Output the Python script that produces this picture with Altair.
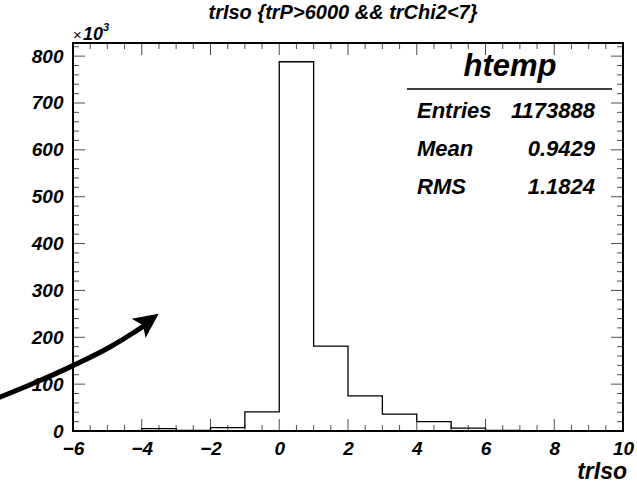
import altair as alt
import pandas as pd

# ---------------- data ----------------
bin_left = [-6, -5, -4, -3, -2, -1, 0, 1, 2, 3, 4, 5, 6, 7, 8, 9]
bin_right_edge = 10
counts = [0, 0, 5000, 1500, 7000, 41000, 788000, 181000, 75000, 36000,
          20000, 6000, 1500, 500, 100, 0]

x_major = [-6, -4, -2, 0, 2, 4, 6, 8, 10]
x_minor = [-5.5, -5, -4.5, -3.5, -3, -2.5, -1.5, -1, -0.5, 0.5, 1, 1.5,
           2.5, 3, 3.5, 4.5, 5, 5.5, 6.5, 7, 7.5, 8.5, 9, 9.5]
y_major = [0, 100000, 200000, 300000, 400000, 500000, 600000, 700000, 800000]
y_minor = [20000, 40000, 60000, 80000, 120000, 140000, 160000, 180000,
           220000, 240000, 260000, 280000, 320000, 340000, 360000, 380000,
           420000, 440000, 460000, 480000, 520000, 540000, 560000, 580000,
           620000, 640000, 660000, 680000, 720000, 740000, 760000, 780000,
           820000]

# annotation arrow (in data units)
arrow_x = [-8.20, -7.076, -6.0, -4.924, -4.255, -3.905]
arrow_y = [70000, 104000, 139500, 179200, 209100, 226100]
arrow_head_x = [-3.80]
arrow_head_y = [234500]

title_text = "trIso {trP>6000 && trChi2<7}"
x_title = "trIso"
stats_name = "htemp"
stats_labels = ["Entries", "Mean", "RMS"]
stats_values = ["1173888", "0.9429", "1.1824"]

# ---------------- layout ----------------
W, H = 550, 388
FONT = "Liberation Sans"

xs = alt.Scale(domain=[-6, 10], nice=False, zero=False)
ys = alt.Scale(domain=[0, 828000], nice=False, zero=False)

hist_df = pd.DataFrame({"x": bin_left + [bin_right_edge],
                        "y": counts + [counts[-1]]})

hist = alt.Chart(hist_df).mark_line(
    interpolate="step-after", color="black", strokeWidth=1.3
).encode(
    x=alt.X("x:Q", scale=xs, axis=alt.Axis(
        values=x_major, ticks=False, domain=False, grid=False, title=None,
        labelFont=FONT, labelFontSize=19, labelFontWeight="bold",
        labelFontStyle="italic", labelColor="black", labelPadding=8,
        labelFlush=False)),
    y=alt.Y("y:Q", scale=ys, axis=alt.Axis(
        values=y_major, ticks=False, domain=False, grid=False, title=None,
        labelExpr="format(datum.value/1000, 'd')",
        labelFont=FONT, labelFontSize=19, labelFontWeight="bold",
        labelFontStyle="italic", labelColor="black", labelPadding=10,
        labelFlush=False)),
)

dummy = pd.DataFrame({"a": [0]})

frame = alt.Chart(dummy).mark_rect(
    fillOpacity=0, stroke="black", strokeWidth=2
).encode(x=alt.value(0), x2=alt.value(W), y=alt.value(0), y2=alt.value(H))


def xticks(vals, length, ypos):
    return alt.Chart(pd.DataFrame({"v": vals})).mark_tick(
        orient="vertical", size=length, thickness=1, color="black"
    ).encode(x=alt.X("v:Q", scale=xs), y=alt.value(ypos))


def yticks(vals, length, xpos):
    return alt.Chart(pd.DataFrame({"v": vals})).mark_tick(
        orient="horizontal", size=length, thickness=1, color="black"
    ).encode(y=alt.Y("v:Q", scale=ys), x=alt.value(xpos))


ticks = [
    xticks(x_major, 12, H - 6), xticks(x_minor, 6, H - 3),
    xticks(x_major, 12, 6), xticks(x_minor, 6, 3),
    yticks(y_major, 12, 6), yticks(y_minor, 6, 3),
    yticks(y_major, 12, W - 6), yticks(y_minor, 6, W - 3),
]


def txt(s, x, y, size, align="left", baseline="alphabetic", weight="bold",
        style="italic"):
    return alt.Chart(dummy).mark_text(
        text=s, font=FONT, fontSize=size, fontWeight=weight, fontStyle=style,
        align=align, baseline=baseline, color="black"
    ).encode(x=alt.value(x), y=alt.value(y))


texts = [
    txt(title_text, 270, -24, 20, align="center"),
    txt("×", 0, -3, 15, weight="normal", style="normal"),
    txt("10", 10, -3, 18),
    txt("3", 30, -12, 11),
    txt(x_title, 554, 436, 23, align="right"),
    txt(stats_name, 437, 33, 31, align="center"),
]
for i, (lab, val) in enumerate(zip(stats_labels, stats_values)):
    yy = [68, 106, 144][i]
    texts.append(txt(lab, 344, yy, 22, baseline="middle"))
    texts.append(txt(val, 522, yy, 22, align="right", baseline="middle"))

stats_line = alt.Chart(dummy).mark_rule(color="black", strokeWidth=1.3).encode(
    x=alt.value(334), x2=alt.value(539), y=alt.value(46))

arrow_df = pd.DataFrame({"x": arrow_x, "y": arrow_y})
arrow_line = alt.Chart(arrow_df).mark_line(
    color="black", strokeWidth=5, interpolate="monotone", clip=False,
    strokeCap="butt"
).encode(x=alt.X("x:Q", scale=xs), y=alt.Y("y:Q", scale=ys))

head_df = pd.DataFrame({"x": arrow_head_x, "y": arrow_head_y})
arrow_head = alt.Chart(head_df).mark_point(
    shape="M0,-1 L0.95,1 L0,0.55 L-0.95,1 Z", filled=True, fill="black",
    color="black", opacity=1, size=620, angle=54, clip=False
).encode(x=alt.X("x:Q", scale=xs), y=alt.Y("y:Q", scale=ys))

chart = alt.layer(
    hist, *ticks, frame, stats_line, arrow_line, arrow_head, *texts
).properties(
    width=W, height=H,
    autosize=alt.AutoSizeParams(type="none"),
    padding={"left": 73, "top": 43, "right": 14, "bottom": 54},
    background="white",
).configure_view(stroke=None)

chart.save("out.html", embed_options={"renderer": "svg", "actions": False})
